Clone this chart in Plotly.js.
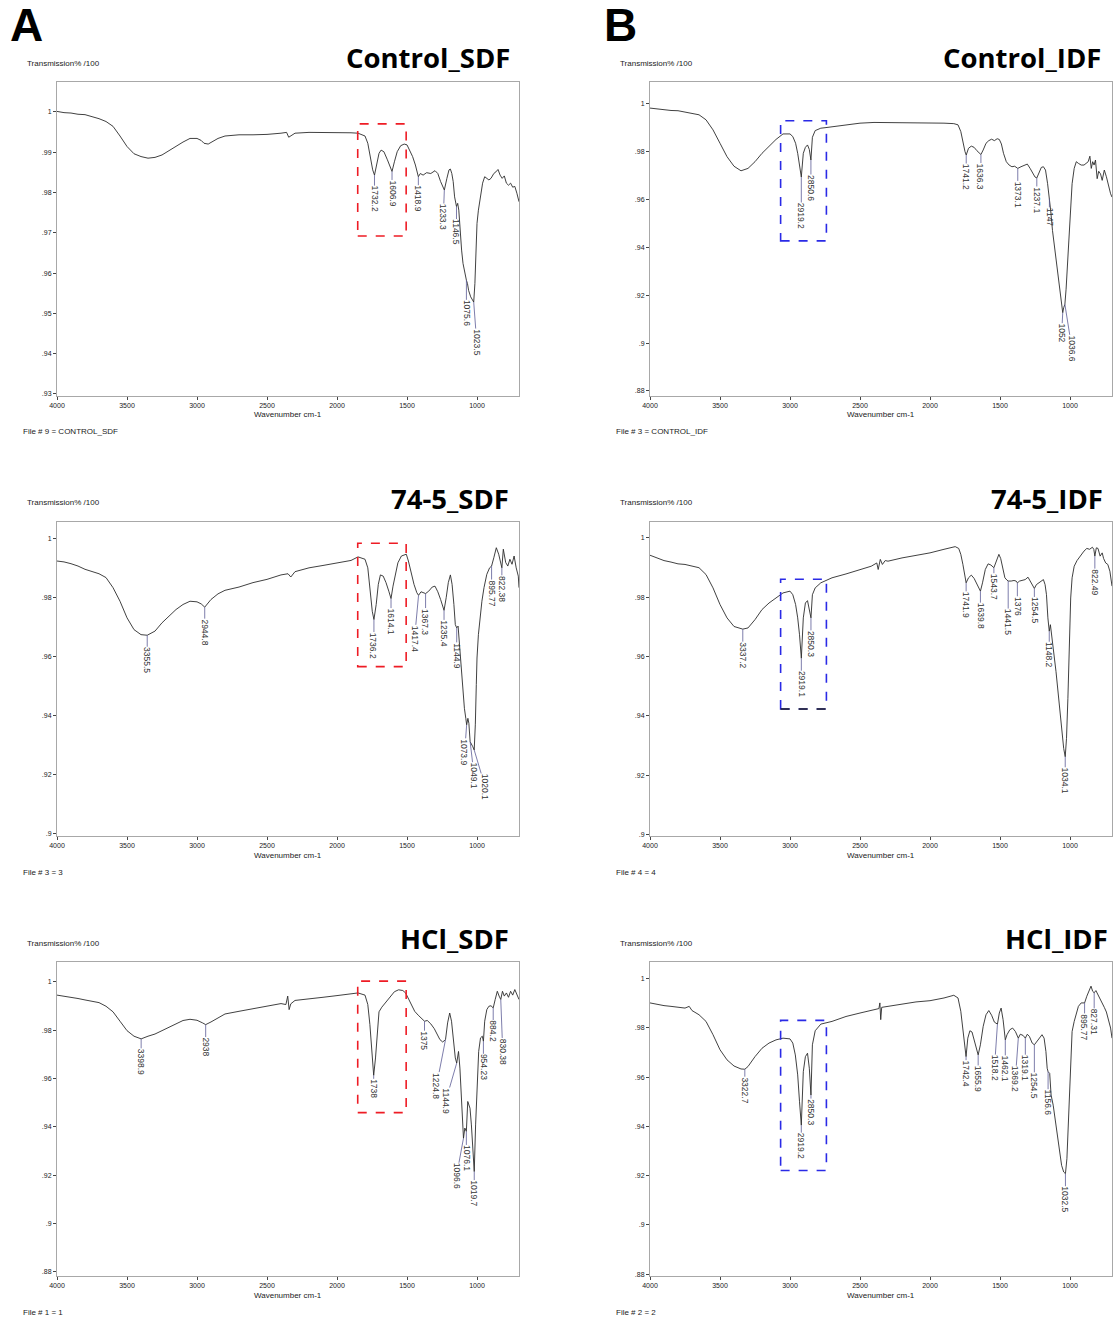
<!DOCTYPE html>
<html><head><meta charset="utf-8">
<script src="https://cdn.plot.ly/plotly-3.0.1.min.js"></script>
<style>html,body{margin:0;padding:0;background:#fff}</style>
</head><body><div id="chart" style="width:1114px;height:1322px"></div>
<script>
// ---------- DATA ----------
const wnTicks = [4000, 3500, 3000, 2500, 2000, 1500, 1000];

const ctrlSdfWn = [4000,3950,3900,3850,3800,3750,3700,3650,3600,3550,3500,3450,3400,3350,3300,3250,3200,3150,3100,3050,3000,2970,2950,2920,2900,2850,2800,2700,2600,2500,2400,2360,2345,2330,2300,2200,2000,1900,1850,1800,1780,1760,1745,1732.2,1715,1700,1685,1665,1640,1620,1606.9,1590,1570,1545,1520,1500,1480,1460,1440,1418.9,1405,1385,1360,1330,1300,1280,1260,1245,1233.3,1215,1200,1190,1180,1170,1160,1146.5,1138,1130,1120,1110,1100,1090,1083,1075.6,1068,1060,1045,1035,1023.5,1015,1008,1000,990,975,960,945,930,915,900,880,865,850,835,820,805,790,775,760,745,730,715,700];
const ctrlSdfT = [1.0001,.9998,.9997,.9994,.9993,.9988,.9983,.9976,.9964,.9940,.9914,.9896,.9889,.9885,.9887,.9893,.9904,.9914,.9925,.9934,.9934,.9929,.9922,.9920,.9924,.9934,.9940,.9943,.9943,.9944,.9947,.9949,.9937,.9940,.9947,.9949,.9949,.9948,.9947,.9940,.9922,.9881,.9856,.9843,.9868,.9897,.9905,.9901,.9881,.9864,.9852,.9876,.9901,.9916,.9920,.9918,.9905,.9889,.9868,.9839,.9847,.9843,.9849,.9847,.9854,.9847,.9827,.9814,.9806,.9835,.9856,.9858,.9847,.9827,.9789,.9765,.9773,.9756,.9698,.9657,.9624,.9607,.9590,.9582,.9574,.9557,.9541,.9536,.9528,.9574,.9640,.9723,.9756,.9789,.9823,.9839,.9835,.9831,.9835,.9847,.9851,.9857,.9843,.9835,.9841,.9823,.9818,.9823,.9813,.9815,.9798,.9777];
const ctrlSdfPeaks = [1732.2,1606.9,1418.9,1233.3,1146.5,1075.6,1023.5];

const ctrlIdfWn = [4000,3950,3900,3850,3800,3750,3700,3650,3600,3550,3500,3450,3400,3350,3300,3250,3200,3150,3100,3050,3000,2980,2960,2945,2932,2919.2,2905,2890,2875,2862,2850.6,2840,2820,2780,2750,2600,2500,2400,2300,2200,2100,2000,1900,1830,1800,1780,1765,1750,1741.2,1725,1705,1685,1665,1645,1636.3,1620,1600,1580,1560,1540,1520,1505,1490,1475,1455,1435,1415,1395,1373.1,1350,1325,1305,1285,1265,1250,1237.1,1222,1205,1190,1175,1160,1147,1138,1125,1110,1090,1070,1060,1052,1045,1036.6,1028,1018,1008,998,985,970,955,940,920,900,885,870,858,848,838,828,818,806,795,782,770,755,740,725,710,700];
const ctrlIdfT = [.9982,.9978,.9975,.9972,.9971,.9965,.9961,.9954,.9933,.9891,.9835,.9779,.9739,.9720,.9730,.9758,.9793,.9821,.9851,.9874,.9874,.9863,.9835,.9793,.9744,.9694,.9793,.9818,.9828,.9809,.9765,.9860,.9888,.9898,.9900,.9912,.9919,.9922,.9922,.9922,.9920,.9919,.9919,.9917,.9912,.9884,.9835,.9800,.9786,.9814,.9823,.9818,.9804,.9790,.9788,.9807,.9835,.9846,.9852,.9846,.9854,.9851,.9832,.9793,.9758,.9744,.9737,.9739,.9730,.9737,.9744,.9748,.9730,.9706,.9694,.9690,.9715,.9734,.9737,.9723,.9666,.9603,.9554,.9470,.9400,.9302,.9204,.9162,.9127,.9148,.9162,.9225,.9330,.9442,.9568,.9666,.9730,.9758,.9751,.9744,.9744,.9751,.9758,.9781,.9730,.9758,.9744,.9765,.9687,.9718,.9707,.9680,.9723,.9695,.9652,.9624,.9610];
const ctrlIdfPeaks = [2919.2,2850.6,1741.2,1636.3,1373.1,1237.1,1147,1052,1036.6];

const s745SdfWn = [4000,3950,3900,3850,3800,3750,3700,3650,3600,3550,3500,3450,3400,3355.5,3300,3250,3200,3150,3100,3050,3000,2970,2944.8,2920,2900,2850,2800,2700,2600,2500,2400,2350,2330,2300,2200,2100,2000,1900,1850,1800,1780,1760,1748,1736.2,1720,1705,1690,1670,1650,1630,1614.1,1600,1585,1565,1540,1520,1505,1490,1470,1450,1430,1417.4,1400,1385,1367.3,1345,1320,1300,1280,1260,1235.4,1220,1205,1190,1178,1165,1155,1144.9,1135,1125,1110,1100,1090,1080,1073.9,1065,1058,1049.1,1040,1030,1020.1,1012,1005,1000,990,980,965,950,930,910,895.77,880,862,845,830,822.38,812,795,780,765,750,735,720,705,700];
const s745SdfT = [.9923,.9920,.9914,.9906,.9895,.9887,.9880,.9867,.9833,.9787,.9731,.9691,.9674,.9672,.9686,.9714,.9736,.9759,.9776,.9787,.9785,.9778,.9767,.9782,.9793,.9812,.9824,.9835,.9850,.9861,.9876,.9880,.9869,.9887,.9900,.9908,.9917,.9925,.9937,.9929,.9900,.9810,.9753,.9725,.9776,.9844,.9876,.9872,.9850,.9821,.9796,.9838,.9878,.9917,.9940,.9943,.9946,.9923,.9878,.9844,.9816,.9807,.9819,.9816,.9813,.9821,.9835,.9838,.9819,.9793,.9756,.9799,.9850,.9876,.9844,.9776,.9708,.9697,.9703,.9640,.9538,.9482,.9425,.9391,.9369,.9391,.9374,.9312,.9301,.9295,.9284,.9369,.9505,.9595,.9674,.9731,.9787,.9833,.9878,.9900,.9906,.9934,.9968,.9946,.9912,.9900,.9963,.9918,.9906,.9929,.9912,.9940,.9900,.9872,.9833];
const s745SdfPeaks = [3355.5,2944.8,1736.2,1614.1,1417.4,1367.3,1235.4,1144.9,1073.9,1049.1,1020.1,895.77,822.38];

const s745IdfWn = [4000,3950,3900,3850,3800,3750,3700,3650,3600,3550,3500,3450,3400,3337.2,3300,3250,3200,3150,3100,3050,3000,2980,2960,2945,2932,2919.1,2905,2890,2875,2862,2850.3,2840,2820,2780,2700,2600,2500,2420,2380,2370,2355,2340,2320,2300,2200,2100,2000,1900,1820,1795,1780,1765,1750,1741.9,1725,1705,1685,1665,1650,1639.8,1625,1605,1585,1565,1543.7,1525,1508,1495,1480,1465,1450,1441.5,1420,1400,1385,1376,1360,1340,1320,1300,1280,1265,1254.5,1240,1225,1205,1190,1178,1168,1158,1148.2,1140,1130,1120,1100,1080,1060,1045,1034.1,1025,1015,1005,995,985,970,950,920,900,880,860,840,830,822.49,812,800,785,770,760,745,730,715,700];
const s745IdfT = [.9941,.9932,.9923,.9918,.9912,.9910,.9904,.9899,.9876,.9831,.9775,.9730,.9701,.9692,.9696,.9724,.9758,.9780,.9797,.9814,.9820,.9808,.9775,.9730,.9673,.9594,.9730,.9780,.9788,.9763,.9730,.9808,.9831,.9848,.9865,.9878,.9893,.9904,.9915,.9893,.9927,.9910,.9923,.9921,.9932,.9941,.9949,.9961,.9970,.9964,.9944,.9910,.9865,.9848,.9865,.9874,.9863,.9842,.9825,.9820,.9848,.9893,.9912,.9908,.9899,.9923,.9944,.9930,.9893,.9865,.9857,.9854,.9854,.9856,.9854,.9848,.9854,.9856,.9859,.9867,.9848,.9837,.9829,.9842,.9848,.9854,.9859,.9842,.9808,.9730,.9685,.9707,.9673,.9628,.9549,.9448,.9346,.9290,.9262,.9324,.9459,.9639,.9797,.9865,.9904,.9923,.9944,.9955,.9964,.9961,.9968,.9961,.9938,.9966,.9964,.9938,.9949,.9930,.9915,.9910,.9887,.9837];
const s745IdfPeaks = [3337.2,2919.1,2850.3,1741.9,1639.8,1543.7,1441.5,1376,1254.5,1148.2,1034.1,822.49];

const hclSdfWn = [4000,3950,3900,3850,3800,3750,3700,3650,3600,3550,3500,3450,3398.9,3350,3300,3250,3200,3150,3100,3050,3000,2960,2938,2900,2850,2800,2700,2600,2500,2400,2365,2352,2342,2330,2300,2200,2100,2000,1900,1850,1800,1780,1765,1752,1738,1725,1712,1700,1680,1650,1620,1590,1560,1530,1510,1490,1470,1445,1420,1395,1375,1355,1330,1305,1285,1265,1245,1224.8,1210,1195,1182,1168,1155,1144.9,1132,1122,1112,1104,1096.6,1087,1076.1,1066,1058,1050,1040,1030,1019.7,1010,1000,988,975,962,954.23,945,930,915,900,884.2,870,855,842,830.38,818,805,790,775,760,745,730,715,700];
const hclSdfT = [.9945,.9941,.9936,.9931,.9925,.9920,.9914,.9899,.9876,.9837,.9798,.9775,.9764,.9775,.9784,.9798,.9812,.9827,.9840,.9845,.9841,.9830,.9823,.9834,.9851,.9867,.9878,.9889,.9899,.9910,.9906,.9941,.9885,.9909,.9923,.9931,.9936,.9943,.9950,.9954,.9945,.9906,.9823,.9712,.9613,.9685,.9809,.9876,.9895,.9917,.9936,.9959,.9967,.9964,.9954,.9931,.9906,.9878,.9862,.9848,.9837,.9840,.9826,.9806,.9782,.9761,.9751,.9761,.9830,.9871,.9837,.9754,.9685,.9664,.9712,.9643,.9505,.9408,.9353,.9395,.9381,.9505,.9491,.9477,.9408,.9325,.9215,.9408,.9588,.9712,.9768,.9775,.9754,.9837,.9885,.9899,.9901,.9892,.9927,.9961,.9941,.9927,.9961,.9941,.9954,.9936,.9961,.9945,.9968,.9947,.9927];
const hclSdfPeaks = [3398.9,2938,1738,1375,1224.8,1144.9,1096.6,1076.1,1019.7,954.23,884.2,830.38];

const hclIdfWn = [4000,3950,3900,3850,3800,3750,3720,3700,3650,3600,3550,3500,3450,3400,3350,3322.7,3300,3250,3200,3150,3100,3050,3000,2980,2962,2945,2932,2919.2,2905,2890,2875,2862,2850.3,2840,2820,2780,2700,2600,2500,2400,2365,2358,2352,2345,2300,2200,2100,2000,1900,1830,1800,1780,1765,1752,1742.4,1730,1715,1700,1685,1670,1655.9,1640,1620,1600,1580,1560,1540,1518.2,1505,1492,1478,1462.1,1450,1430,1410,1390,1369.2,1355,1335,1319.1,1305,1290,1270,1254.5,1235,1215,1200,1185,1172,1163,1156.6,1145,1135,1120,1100,1080,1060,1045,1032.5,1022,1012,1003,995,985,970,955,940,920,895.77,880,865,850,838,827.31,815,800,785,770,755,740,725,710,700];
const hclIdfT = [.9901,.9894,.9890,.9887,.9883,.9880,.9887,.9870,.9853,.9826,.9772,.9711,.9670,.9645,.9633,.9632,.9643,.9683,.9717,.9738,.9751,.9758,.9755,.9738,.9690,.9609,.9500,.9405,.9622,.9683,.9697,.9636,.9527,.9731,.9788,.9815,.9826,.9846,.9860,.9874,.9878,.9901,.9833,.9883,.9887,.9897,.9905,.9910,.9921,.9932,.9921,.9867,.9785,.9717,.9683,.9758,.9788,.9783,.9751,.9717,.9690,.9731,.9806,.9853,.9870,.9851,.9823,.9815,.9860,.9880,.9833,.9751,.9772,.9792,.9799,.9785,.9758,.9774,.9769,.9758,.9774,.9765,.9738,.9731,.9747,.9765,.9772,.9758,.9704,.9636,.9622,.9615,.9527,.9486,.9405,.9323,.9242,.9215,.9208,.9269,.9405,.9568,.9704,.9785,.9826,.9860,.9887,.9901,.9901,.9928,.9948,.9969,.9948,.9942,.9951,.9935,.9914,.9901,.9883,.9864,.9833,.9799,.9758];
const hclIdfPeaks = [3322.7,2919.2,2850.3,1742.4,1655.9,1518.2,1462.1,1369.2,1319.1,1254.5,1156.6,1032.5,895.77,827.31];

const panelTitles = ['Control_SDF','Control_IDF','74-5_SDF','74-5_IDF','HCl_SDF','HCl_IDF'];
const fileLabels = ['File # 9 = CONTROL_SDF','File # 3 = CONTROL_IDF','File # 3 = 3','File # 4 = 4','File # 1 = 1','File # 2 = 2'];
const ticks01 = [1,.99,.98,.97,.96,.95,.94,.93];
const ticks01Text = ['1','.99','.98','.97','.96','.95','.94','.93'];
const ticks02 = [1,.98,.96,.94,.92,.9,.88];
const ticks02Text = ['1','.98','.96','.94','.92','.9','.88'];

// ---------- LAYOUT / STYLE ----------
const W = 1114, H = 1322;
const colX = [[57, 519], [650, 1112]];
const rowY = [[82, 396], [522, 836], [962, 1276]];
const px = v => v / W;
const py = v => 1 - v / H;

const panels = [
  {wn: ctrlSdfWn, t: ctrlSdfT, peaks: ctrlSdfPeaks, col: 0, row: 0, yr: [.9295, 1.0074], tv: ticks01, tt: ticks01Text,
   lead: [[0,10],[0,8],[0,8],[-1,13],[0,12],[0,19],[3,26]],
   box: {x0: 1852, x1: 1506, y0: .9692, y1: .997, c: '#ee1c25'}, titleR: 512},
  {wn: ctrlIdfWn, t: ctrlIdfT, peaks: ctrlIdfPeaks, col: 1, row: 0, yr: [.8779, 1.0091], tv: ticks02, tt: ticks02Text,
   lead: [[0,25],[0,14],[0,8],[0,8],[0,12],[0,8],[0,8],[-1,10],[7,30]],
   box: {x0: 3067, x1: 2740, y0: .9427, y1: .9929, c: '#2a2ae6'}, titleR: 1103},
  {wn: s745SdfWn, t: s745SdfT, peaks: s745SdfPeaks, col: 0, row: 1, yr: [.8993, 1.0055], tv: ticks02.slice(0,6), tt: ticks02Text.slice(0,6),
   lead: [[0,11],[0,11],[0,12],[0,9],[-4,29],[0,14],[0,9],[0,14],[-2,13],[4,20],[11,23],[0,13],[0,7]],
   box: {x0: 1852, x1: 1506, y0: .9566, y1: .9983, c: '#ee1c25'}, titleR: 511},
  {wn: s745IdfWn, t: s745IdfT, peaks: s745IdfPeaks, col: 1, row: 1, yr: [.8995, 1.0053], tv: ticks02.slice(0,6), tt: ticks02Text.slice(0,6),
   lead: [[0,12],[0,12],[0,12],[0,8],[0,11],[0,5],[0,27],[0,13],[0,8],[0,10],[0,10],[0,12]],
   box: {x0: 3067, x1: 2740, y0: .9423, y1: .986, c: '#2a2ae6', bottomC: '#222'}, titleR: 1105},
  {wn: hclSdfWn, t: hclSdfT, peaks: hclSdfPeaks, col: 0, row: 2, yr: [.8783, 1.0082], tv: ticks02, tt: ticks02Text,
   lead: [[0,9],[0,12],[0,3],[0,9],[-9,32],[-11,24],[-7,24],[0,13],[0,8],[0,12],[0,12],[2,38]],
   box: {x0: 1852, x1: 1506, y0: .9459, y1: 1.0003, c: '#ee1c25'}, titleR: 511},
  {wn: hclIdfWn, t: hclIdfT, peaks: hclIdfPeaks, col: 1, row: 2, yr: [.8793, 1.0067], tv: ticks02, tt: ticks02Text,
   lead: [[0,7],[0,7],[0,3],[0,3],[0,10],[-3,30],[0,15],[-3,27],[0,16],[0,27],[0,17],[0,12],[0,10],[0,15]],
   box: {x0: 3067, x1: 2740, y0: .9221, y1: .983, c: '#2a2ae6'}, titleR: 1110}
];

function interp(xs, ys, x) {
  for (let i = 0; i < xs.length - 1; i++) {
    const a = xs[i], b = xs[i + 1];
    if ((x <= a && x >= b) || (x >= a && x <= b)) {
      const f = (x - a) / (b - a);
      return ys[i] + f * (ys[i + 1] - ys[i]);
    }
  }
  return ys[ys.length - 1];
}

const smallFont = {family: 'Liberation Sans, Arial, sans-serif', size: 8, color: '#222'};
const peakFS = 8.5;
const traces = [], annotations = [], shapes = [];
const layout = {
  width: W, height: H, autosize: false, showlegend: false,
  margin: {l: 0, r: 0, t: 0, b: 0}, paper_bgcolor: '#fff', plot_bgcolor: '#fff',
  annotations: annotations, shapes: shapes
};

panels.forEach((p, i) => {
  const n = i === 0 ? '' : String(i + 1);
  const xa = 'x' + n, ya = 'y' + n;
  const [xl, xr] = colX[p.col];
  const [yt, yb] = rowY[p.row];
  layout['xaxis' + n] = {
    domain: [px(xl), px(xr)], range: [4000, 700], anchor: ya,
    tickvals: wnTicks, ticktext: wnTicks.map(String),
    ticks: 'outside', ticklen: 3, tickcolor: '#444', tickwidth: 1,
    showline: true, mirror: true, linecolor: '#a8a8a8', linewidth: 1,
    showgrid: false, zeroline: false,
    tickfont: {family: 'Liberation Sans, Arial', size: 7, color: '#222'}
  };
  layout['yaxis' + n] = {
    domain: [py(yb), py(yt)], range: p.yr, anchor: xa,
    tickvals: p.tv, ticktext: p.tt,
    ticks: 'outside', ticklen: 3, tickcolor: '#444', tickwidth: 1,
    showline: true, mirror: true, linecolor: '#a8a8a8', linewidth: 1,
    showgrid: false, zeroline: false,
    tickfont: {family: 'Liberation Sans, Arial', size: 7, color: '#222'}
  };
  traces.push({type: 'scatter', mode: 'lines', x: p.wn, y: p.t, xaxis: xa, yaxis: ya,
    line: {color: '#2b2b2b', width: 0.9}, hoverinfo: 'skip'});

  // peak labels
  p.peaks.forEach((w, k) => {
    const txt = String(w);
    const digits = txt.replace('.', '').length, dots = txt.length - digits;
    const tw = peakFS * (0.556 * digits + 0.278 * dots);
    const [ax, lead] = p.lead[k];
    annotations.push({
      x: w, y: interp(p.wn, p.t, w), xref: xa, yref: ya, text: txt, textangle: 90,
      showarrow: true, arrowhead: 0, arrowwidth: 0.8, arrowcolor: '#5c5c96',
      ax: ax, ay: lead + tw / 2 + 1, borderpad: 0,
      font: {family: 'Liberation Sans, Arial', size: peakFS, color: '#333'}
    });
  });

  // dashed box
  const b = p.box;
  shapes.push({type: 'rect', xref: xa, yref: ya, x0: b.x0, x1: b.x1, y0: b.y0, y1: b.y1,
    line: {color: b.c, width: 1.6, dash: 'dash'}, fillcolor: 'rgba(0,0,0,0)'});
  if (b.bottomC) {
    shapes.push({type: 'line', xref: xa, yref: ya, x0: b.x0, x1: b.x1, y0: b.y0, y1: b.y0,
      line: {color: b.bottomC, width: 1.6, dash: 'dash'}});
  }

  // panel title
  annotations.push({xref: 'paper', yref: 'paper', x: px(p.titleR), y: py(yt - 24),
    xanchor: 'right', yanchor: 'middle', showarrow: false, text: '<b>' + panelTitles[i] + '</b>',
    font: {family: 'Open Sans, sans-serif', size: 27.5, color: '#000'}});
  // y axis caption
  annotations.push({xref: 'paper', yref: 'paper', x: px(xl - 32), y: py(yt - 19),
    xanchor: 'left', yanchor: 'middle', showarrow: false, text: 'Transmission% /100', font: smallFont});
  // x axis caption
  annotations.push({xref: 'paper', yref: 'paper', x: px((xl + xr) / 2), y: py(yb + 19),
    xanchor: 'center', yanchor: 'middle', showarrow: false, text: 'Wavenumber cm-1', font: smallFont});
  // file caption
  annotations.push({xref: 'paper', yref: 'paper', x: px(xl - 36), y: py(yb + 36),
    xanchor: 'left', yanchor: 'middle', showarrow: false, text: fileLabels[i], font: smallFont});
});

annotations.push({xref: 'paper', yref: 'paper', x: px(8), y: py(25), xanchor: 'left', yanchor: 'middle',
  showarrow: false, text: '<b>A</b>', font: {family: 'Liberation Sans, Arial', size: 46, color: '#000'}});
annotations.push({xref: 'paper', yref: 'paper', x: px(602), y: py(25), xanchor: 'left', yanchor: 'middle',
  showarrow: false, text: '<b>B</b>', font: {family: 'Liberation Sans, Arial', size: 46, color: '#000'}});

Plotly.newPlot('chart', traces, layout, {displayModeBar: false, staticPlot: true});
</script>
</body></html>
